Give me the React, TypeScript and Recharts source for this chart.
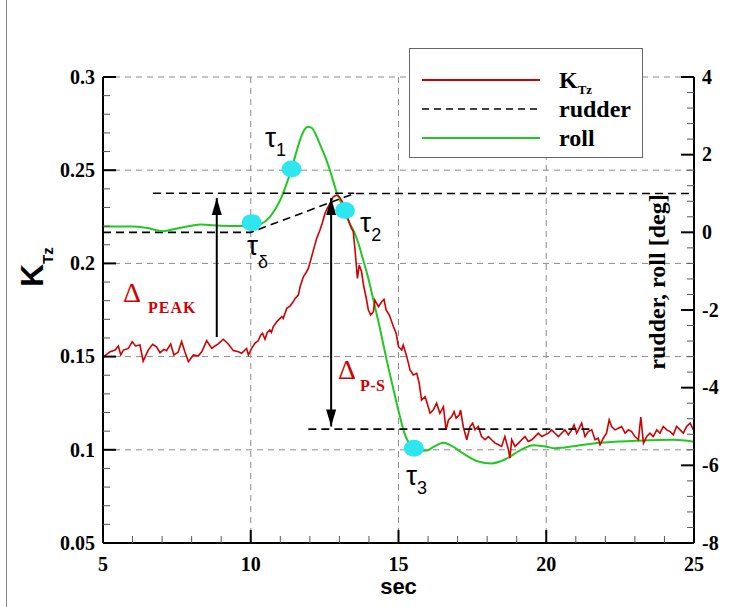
import React from 'react';
import { ComposedChart, Line, XAxis, YAxis, CartesianGrid, ReferenceLine, ReferenceDot } from 'recharts';

// K_Tz (left axis)
const ktzTime = [
  5.0, 5.12, 5.24, 5.41, 5.52, 5.6, 5.69, 5.86, 5.99, 6.1, 6.25, 6.36, 6.53, 6.68, 6.81, 6.93, 7.06, 7.15, 7.29, 7.4,
  7.54, 7.66, 7.77, 7.89, 8.06, 8.22, 8.34, 8.51, 8.68, 8.79, 8.9, 9.07, 9.24, 9.41, 9.58, 9.69, 9.86, 9.92, 10.03, 10.14,
  10.25, 10.34, 10.4, 10.48, 10.56, 10.65, 10.7, 10.76, 10.88, 10.96, 11.05, 11.1, 11.22, 11.33, 11.42, 11.5, 11.61, 11.67, 11.78, 11.87,
  11.95, 12.03, 12.12, 12.23, 12.34, 12.42, 12.51, 12.59, 12.68, 12.79, 12.9, 13.0, 13.1, 13.25, 13.4, 13.47, 13.53, 13.61, 13.67, 13.75,
  13.82, 13.9, 13.98, 14.06, 14.15, 14.2, 14.32, 14.43, 14.51, 14.58, 14.69, 14.83, 14.92, 15.0, 15.11, 15.16, 15.28, 15.39, 15.5, 15.62,
  15.7, 15.78, 15.9, 15.97, 16.07, 16.18, 16.29, 16.4, 16.52, 16.61, 16.69, 16.8, 16.88, 16.95, 17.06, 17.1, 17.19, 17.31, 17.42, 17.51,
  17.59, 17.7, 17.81, 17.93, 18.04, 18.15, 18.27, 18.38, 18.49, 18.6, 18.72, 18.77, 18.83, 18.94, 19.06, 19.17, 19.28, 19.39, 19.51, 19.62,
  19.73, 19.85, 19.96, 20.07, 20.18, 20.3, 20.41, 20.52, 20.63, 20.75, 20.86, 20.94, 21.03, 21.2, 21.31, 21.42, 21.54, 21.65, 21.76, 21.82,
  21.93, 22.04, 22.13, 22.21, 22.33, 22.44, 22.55, 22.67, 22.78, 22.89, 23.0, 23.12, 23.2, 23.29, 23.4, 23.51, 23.62, 23.74, 23.85, 23.96,
  24.08, 24.19, 24.3, 24.41, 24.53, 24.64, 24.75, 24.87, 24.98,
];
const ktzValue = [
  0.1496, 0.1512, 0.1526, 0.1535, 0.1557, 0.1509, 0.1535, 0.1544, 0.158, 0.1557, 0.1562, 0.1476, 0.1535, 0.1566, 0.1553, 0.1521, 0.1539, 0.1532, 0.1568, 0.1509,
  0.1523, 0.158, 0.1526, 0.1473, 0.1509, 0.1503, 0.1526, 0.1585, 0.1544, 0.1557, 0.1568, 0.1593, 0.1568, 0.1532, 0.1526, 0.1518, 0.1544, 0.1509, 0.1544, 0.1571,
  0.1585, 0.1616, 0.1625, 0.1593, 0.163, 0.1643, 0.163, 0.166, 0.1687, 0.17, 0.1714, 0.1705, 0.1759, 0.1771, 0.179, 0.1812, 0.183, 0.1875, 0.1928, 0.195,
  0.1973, 0.2018, 0.2071, 0.2134, 0.2178, 0.2215, 0.2268, 0.2295, 0.2321, 0.2357, 0.2366, 0.2357, 0.233, 0.226, 0.219, 0.217, 0.2071, 0.192, 0.1991, 0.1955,
  0.188, 0.1821, 0.175, 0.1723, 0.1741, 0.1803, 0.1768, 0.1794, 0.1807, 0.175, 0.1723, 0.166, 0.1625, 0.1553, 0.1535, 0.1562, 0.15, 0.1428, 0.1401, 0.141,
  0.1357, 0.1267, 0.1285, 0.125, 0.1196, 0.1214, 0.125, 0.1196, 0.1231, 0.1107, 0.116, 0.1178, 0.1205, 0.117, 0.1188, 0.1214, 0.1125, 0.1054, 0.1125, 0.1143,
  0.1107, 0.1125, 0.1071, 0.1054, 0.1071, 0.1054, 0.1036, 0.1027, 0.1018, 0.1071, 0.1, 0.0955, 0.1054, 0.1018, 0.1036, 0.1054, 0.1071, 0.1045, 0.1054, 0.1071,
  0.1089, 0.1071, 0.108, 0.1089, 0.1107, 0.1089, 0.1071, 0.1089, 0.1107, 0.108, 0.1107, 0.1134, 0.1089, 0.1143, 0.1071, 0.1098, 0.1107, 0.1054, 0.1062, 0.1027,
  0.1062, 0.1089, 0.1161, 0.1125, 0.1107, 0.1116, 0.1125, 0.1089, 0.1107, 0.1098, 0.1071, 0.1054, 0.1175, 0.1036, 0.1071, 0.1089, 0.1071, 0.1107, 0.1089, 0.1125,
  0.1107, 0.1098, 0.108, 0.1125, 0.1107, 0.1089, 0.1125, 0.1143, 0.1107,
];

// roll, deg (right axis)
const rollTime = [
  5.0, 5.5, 6.0, 6.5, 7.03, 7.5, 8.0, 8.3, 9.0, 9.66, 10.0, 10.3, 10.65, 10.85, 11.05, 11.2, 11.38, 11.5, 11.67, 11.8,
  11.94, 12.08, 12.2, 12.35, 12.5, 12.68, 12.9, 13.05, 13.19, 13.35, 13.47, 13.65, 13.8, 13.95, 14.15, 14.35, 14.6, 14.8, 15.05, 15.2,
  15.35, 15.5, 15.7, 15.95, 16.2, 16.52, 16.8, 17.2, 17.7, 18.15, 18.6, 19.1, 19.56, 20.0, 20.3, 21.0, 21.8, 23.0, 24.3, 25.0,
];
const rollValue = [
  0.15, 0.15, 0.15, 0.11, 0.03, 0.1, 0.17, 0.2, 0.17, 0.16, 0.15, 0.2, 0.4, 0.62, 0.92, 1.22, 1.63, 1.95, 2.38, 2.62,
  2.72, 2.68, 2.52, 2.25, 1.98, 1.6, 1.05, 0.78, 0.52, 0.22, 0.06, -0.3, -0.7, -1.1, -1.74, -2.4, -3.29, -3.95, -4.75, -5.17,
  -5.42, -5.56, -5.63, -5.62, -5.52, -5.42, -5.5, -5.7, -5.9, -5.95, -5.85, -5.62, -5.48, -5.52, -5.56, -5.5, -5.42, -5.37, -5.34, -5.39,
];

// rudder, deg (right axis)
const rudderTime = [5, 10, 13.5, 25];
const rudderValue = [0, 0, 1.0, 1.0];

// time-constant markers (right axis)
const markerTime = [10.03, 11.38, 13.19, 15.52];
const markerValue = [0.25, 1.63, 0.56, -5.56];

// tau labels (left axis coords of text anchor)
const tauSub = ['δ', '1', '2', '3'];
const tauTime = [9.87, 10.48, 13.7, 15.25];
const tauK = [0.2045, 0.2624, 0.2168, 0.0811];

// delta labels
const deltaSub = ['PEAK', 'P-S'];
const deltaTime = [5.68, 12.95];
const deltaK = [0.1793, 0.138];

// levels and arrows
const peakLevel = 0.2376;
const peakLineFrom = 6.69;
const peakLineTo = 13.5;
const settleLevel = 0.1111;
const settleLineFrom = 11.95;
const settleLineTo = 21.48;
const peakArrowT = 8.85;
const peakArrowFrom = 0.1605;
const peakArrowTo = 0.2351;
const psArrowT = 12.72;
const psArrowTop = 0.2351;
const psArrowBottom = 0.1125;

const xMajor = [5, 10, 15, 20, 25];
const leftMajor = [0.05, 0.1, 0.15, 0.2, 0.25, 0.3];
const rightMajor = [-8, -6, -4, -2, 0, 2, 4];
const xGrid = [10, 15, 20];
const yGrid = [0.1, 0.15, 0.2, 0.25, 0.3];

const xTicks = Array.from({ length: 21 }, (_, i) => 5 + i);
const leftTicks = Array.from({ length: 26 }, (_, i) => +(0.05 + i * 0.01).toFixed(2));
const rightTicks = Array.from({ length: 31 }, (_, i) => +(-8 + i * 0.4).toFixed(1));

const ktzData = ktzTime.map((t, i) => ({ t, k: ktzValue[i] }));
const rollData = rollTime.map((t, i) => ({ t, d: rollValue[i] }));
const rudderData = rudderTime.map((t, i) => ({ t, d: rudderValue[i] }));

const RED = '#d00000';
const GREEN = '#22c822';
const CYAN = '#2ee6f0';
const serif = '"Liberation Serif", "Times New Roman", serif';
const sans = '"Liberation Sans", Arial, sans-serif';
const tickFont = { fontFamily: serif, fontWeight: 700, fontSize: 20, fill: '#000' };

const near = (arr: number[], v: number) => arr.some((m) => Math.abs(m - v) < 1e-6);

const applyScale = (scale: any, v: number) => {
  if (typeof scale === 'function') return scale(v);
  if (scale && typeof scale.map === 'function') return scale.map(v);
  return NaN;
};

const XTick = (props: any) => {
  const { x, y, payload } = props;
  const major = near(xMajor, payload.value);
  return (
    <g>
      <line x1={x} y1={y} x2={x} y2={y - (major ? 13 : 7)} stroke={major ? '#000' : '#555'} strokeWidth={major ? 2 : 1} />
      {major && (
        <text x={x} y={y + 28} textAnchor="middle" style={tickFont}>
          {payload.value}
        </text>
      )}
    </g>
  );
};

const LeftTick = (props: any) => {
  const { x, y, payload } = props;
  const major = near(leftMajor, payload.value);
  return (
    <g>
      <line x1={x} y1={y} x2={x + (major ? 13 : 7)} y2={y} stroke={major ? '#000' : '#555'} strokeWidth={major ? 2 : 1} />
      {major && (
        <text x={x - 8} y={y} dy="0.34em" textAnchor="end" style={tickFont}>
          {payload.value}
        </text>
      )}
    </g>
  );
};

const RightTick = (props: any) => {
  const { x, y, payload } = props;
  const major = near(rightMajor, payload.value);
  return (
    <g>
      <line x1={x} y1={y} x2={x - (major ? 13 : 7)} y2={y} stroke={major ? '#000' : '#555'} strokeWidth={major ? 2 : 1} />
      {major && (
        <text x={x + 8} y={y} dy="0.34em" textAnchor="start" style={tickFont}>
          {payload.value}
        </text>
      )}
    </g>
  );
};

const arrowHead = (tx: number, ty: number, fx: number, fy: number) => {
  const ang = Math.atan2(ty - fy, tx - fx);
  const len = 17;
  const w = 5;
  const bx = tx - len * Math.cos(ang);
  const by = ty - len * Math.sin(ang);
  const px = -Math.sin(ang) * w;
  const py = Math.cos(ang) * w;
  return <polygon points={`${tx},${ty} ${bx + px},${by + py} ${bx - px},${by - py}`} fill="#000" />;
};

const makeArrow = (both: boolean) => (p: any) => {
  const { x1, y1, x2, y2 } = p;
  return (
    <g>
      <line x1={x1} y1={y1} x2={x2} y2={y2} stroke="#000" strokeWidth={2} />
      {arrowHead(x2, y2, x1, y1)}
      {both && arrowHead(x1, y1, x2, y2)}
    </g>
  );
};

const TauLabel = (sub: string) => (p: any) => (
  <text x={p.cx} y={p.cy} style={{ fontFamily: sans, fontSize: 28, fill: '#000' }}>
    τ
    <tspan dy={sub === 'δ' ? 13 : 9} style={{ fontSize: 18 }}>
      {sub}
    </tspan>
  </text>
);

const DeltaLabel = (sub: string) => (p: any) => (
  <g>
    <text x={p.cx} y={p.cy} style={{ fontFamily: serif, fontSize: 28, fill: RED }}>
      Δ
    </text>
    <text
      x={p.cx + (sub === 'PEAK' ? 25 : 22)}
      y={p.cy + (sub === 'PEAK' ? 11 : 12)}
      style={{ fontFamily: serif, fontWeight: 700, fontSize: 16, fill: RED, letterSpacing: sub === 'PEAK' ? 1 : 0.5 }}
    >
      {sub}
    </text>
  </g>
);

const LeftTitle = (props: any) => {
  const { viewBox } = props;
  const bx = viewBox.x;
  const by = viewBox.y + 210;
  return (
    <text x={bx} y={by} transform={`rotate(-90, ${bx}, ${by})`} style={{ fontFamily: sans, fontWeight: 700, fontSize: 32, fill: '#000' }}>
      K
      <tspan dy={10} style={{ fontSize: 15 }}>
        Tz
      </tspan>
    </text>
  );
};

const RightTitle = (props: any) => {
  const { viewBox } = props;
  const bx = viewBox.x - 29;
  const by = viewBox.y + 205;
  return (
    <text
      x={bx}
      y={by}
      textAnchor="middle"
      transform={`rotate(-90, ${bx}, ${by})`}
      style={{ fontFamily: serif, fontWeight: 700, fontSize: 24, fill: '#000' }}
    >
      rudder, roll [deg]
    </text>
  );
};

const BottomTitle = (props: any) => {
  const { viewBox } = props;
  return (
    <text x={viewBox.x + viewBox.width / 2} y={viewBox.y + 51} textAnchor="middle" style={{ fontFamily: sans, fontWeight: 700, fontSize: 22, fill: '#000' }}>
      sec
    </text>
  );
};

function LegendBox() {
  const rows = [
    { y: 31, color: RED, dash: undefined as string | undefined, label: 'K', sub: 'Tz' },
    { y: 60, color: '#000', dash: '7 5', label: 'rudder', sub: '' },
    { y: 89, color: GREEN, dash: undefined, label: 'roll', sub: '' },
  ];
  return (
    <div style={{ position: 'absolute', left: 409, top: 48, width: 232, height: 108, border: '1px solid #666', background: '#fff' }}>
      <svg width={232} height={108}>
        {rows.map((r) => (
          <g key={r.label}>
            <line x1={12} x2={130} y1={r.y} y2={r.y} stroke={r.color} strokeWidth={r.color === '#000' ? 1.6 : 2} strokeDasharray={r.dash} />
            <text x={149} y={r.y + 8} style={{ fontFamily: serif, fontWeight: 700, fontSize: 24, fill: '#000' }}>
              {r.label}
              {r.sub && (
                <tspan dy={6} style={{ fontSize: 13 }}>
                  {r.sub}
                </tspan>
              )}
            </text>
          </g>
        ))}
      </svg>
    </div>
  );
}

export default function App() {
  return (
    <div style={{ position: 'absolute', left: 0, top: 0, width: 741, height: 607, background: '#fff' }}>
      <div style={{ position: 'absolute', left: 6, top: 0, width: 1, height: 607, background: '#888' }} />
      <ComposedChart width={741} height={607} margin={{ top: 77, right: 0, bottom: 24, left: 43 }}>
        <CartesianGrid
          yAxisId="left"
          stroke="#8a8a8a"
          strokeWidth={1}
          strokeDasharray="6 5"
          horizontalCoordinatesGenerator={(gp: any) => yGrid.map((v) => applyScale(gp.yAxis && gp.yAxis.scale, v))}
          verticalCoordinatesGenerator={(gp: any) => xGrid.map((v) => applyScale(gp.xAxis && gp.xAxis.scale, v))}
        />
        <XAxis
          dataKey="t"
          type="number"
          domain={[5, 25]}
          ticks={xTicks}
          interval={0}
          tickSize={0}
          tickMargin={0}
          height={40}
          tick={<XTick />}
          tickLine={false}
          axisLine={{ stroke: '#000', strokeWidth: 2 }}
          allowDataOverflow
          label={{ content: <BottomTitle /> }}
        />
        <YAxis
          yAxisId="left"
          dataKey="k"
          type="number"
          domain={[0.05, 0.3]}
          ticks={leftTicks}
          interval={0}
          tickSize={0}
          tickMargin={0}
          width={60}
          tick={<LeftTick />}
          tickLine={false}
          axisLine={{ stroke: '#000', strokeWidth: 2 }}
          allowDataOverflow
          label={{ content: <LeftTitle /> }}
        />
        <YAxis
          yAxisId="right"
          orientation="right"
          dataKey="d"
          type="number"
          domain={[-8, 4]}
          ticks={rightTicks}
          interval={0}
          tickSize={0}
          tickMargin={0}
          width={47}
          tick={<RightTick />}
          tickLine={false}
          axisLine={{ stroke: '#000', strokeWidth: 2 }}
          allowDataOverflow
          label={{ content: <RightTitle /> }}
        />
        <Line yAxisId="right" data={rudderData} dataKey="d" type="linear" stroke="#000" strokeWidth={1.6} strokeDasharray="8 5" dot={false} isAnimationActive={false} />
        <Line yAxisId="right" data={rollData} dataKey="d" type="monotone" stroke={GREEN} strokeWidth={2} dot={false} isAnimationActive={false} />
        <Line yAxisId="left" data={ktzData} dataKey="k" type="linear" stroke={RED} strokeWidth={1.6} dot={false} isAnimationActive={false} />
        <ReferenceLine
          yAxisId="left"
          segment={[{ x: peakLineFrom, y: peakLevel }, { x: peakLineTo, y: peakLevel }]}
          stroke="#000"
          strokeWidth={1.6}
          strokeDasharray="8 5"
        />
        <ReferenceLine
          yAxisId="left"
          segment={[{ x: settleLineFrom, y: settleLevel }, { x: settleLineTo, y: settleLevel }]}
          stroke="#000"
          strokeWidth={1.6}
          strokeDasharray="8 5"
        />
        <ReferenceLine yAxisId="left" segment={[{ x: peakArrowT, y: peakArrowFrom }, { x: peakArrowT, y: peakArrowTo }]} shape={makeArrow(false)} />
        <ReferenceLine yAxisId="left" segment={[{ x: psArrowT, y: psArrowBottom }, { x: psArrowT, y: psArrowTop }]} shape={makeArrow(true)} />
        {markerTime.map((t, i) => (
          <ReferenceDot
            key={'m' + i}
            yAxisId="right"
            x={t}
            y={markerValue[i]}
            r={9}
            shape={(p: any) => <ellipse cx={p.cx} cy={p.cy} rx={10} ry={8.5} fill={CYAN} />}
          />
        ))}
        {tauTime.map((t, i) => (
          <ReferenceDot key={'t' + i} yAxisId="left" x={t} y={tauK[i]} ifOverflow="visible" shape={TauLabel(tauSub[i])} />
        ))}
        {deltaTime.map((t, i) => (
          <ReferenceDot key={'d' + i} yAxisId="left" x={t} y={deltaK[i]} ifOverflow="visible" shape={DeltaLabel(deltaSub[i])} />
        ))}
      </ComposedChart>
      <LegendBox />
    </div>
  );
}
